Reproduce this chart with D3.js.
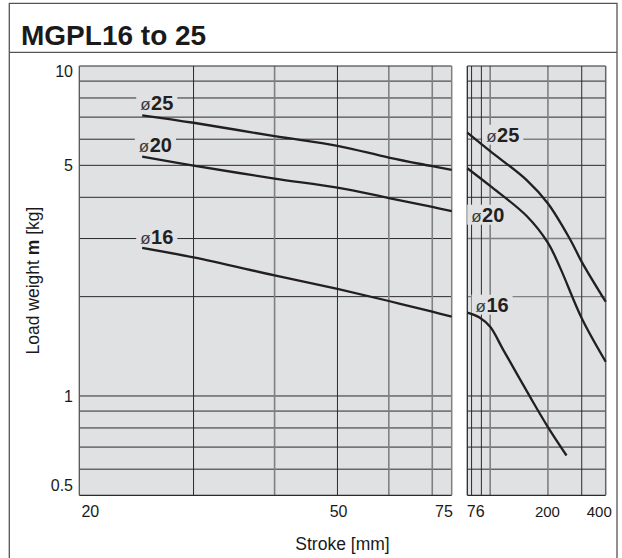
<!DOCTYPE html>
<html>
<head>
<meta charset="utf-8">
<script src="https://cdn.jsdelivr.net/npm/d3@7"></script>
<style>
  html, body { margin: 0; padding: 0; background: #fff; }
  svg { display: block; font-family: "Liberation Sans", Arial, Helvetica, sans-serif; }
</style>
</head>
<body>
<svg id="chart" width="622" height="558"></svg>
<script>
// ---- data ----
const title = "MGPL16 to 25";
const yTicks = [0.5, 1, 5, 10];
const yGrid = [0.6, 0.7, 0.8, 0.9, 1, 2, 3, 4, 5, 6, 7, 8, 9];
const leftTicks = [20, 50, 75];
const rightTicks = [76, 200, 400];
const leftGrid = [30, 40, 50, 60, 70];
const rightGrid = [80, 90, 100, 200, 300];

const leftStroke = [25, 30, 40, 50, 60, 70, 75];
const left25 = [7.09, 6.73, 6.13, 5.73, 5.28, 4.97, 4.84];
const left20 = [5.31, 4.99, 4.56, 4.28, 3.98, 3.74, 3.63];
const left16 = [2.81, 2.63, 2.32, 2.11, 1.94, 1.80, 1.74];

const right25Stroke = [76, 100, 155, 200, 262, 300, 400];
const right25 = [6.28, 5.52, 4.51, 3.83, 2.97, 2.55, 1.93];
const right20Stroke = [76, 100, 155, 200, 232, 300, 400];
const right20 = [4.90, 4.33, 3.51, 2.91, 2.44, 1.72, 1.27];
const right16Stroke = [76, 88, 100, 117, 162, 200, 250];
const right16 = [1.79, 1.73, 1.62, 1.38, 0.99, 0.805, 0.66];

const seriesNames = ["25", "20", "16"];

// ---- layout / style ----
const BG = "#e0e1e3";
const DARK = "#2b2b2b";
const GRAY = "#808080";
const CURVE = "#231f20";

const svg = d3.select("#chart");

const y = d3.scaleLog().domain([0.5, 10]).range([495.3, 66]);
const xL = d3.scaleLog().domain([20, 75]).range([79.3, 451.7]);
const xR = d3.scaleLog().domain([76, 400]).range([467.3, 605.7]);

// outer frame
const FL = 9.3, FR = 617, FT = 3.3, SEP = 52.3;
svg.append("path")
  .attr("d", `M${FL},558V${FT}H${FR}V558`)
  .attr("fill", "none").attr("stroke", "#555").attr("stroke-width", 1.3);
svg.append("line").attr("x1", FL).attr("x2", FR).attr("y1", SEP).attr("y2", SEP)
  .attr("stroke", "#555").attr("stroke-width", 1.3);

svg.append("text").attr("x", 21).attr("y", 45.3)
  .attr("font-size", 28).attr("font-weight", "bold").attr("fill", "#1a1a1a")
  .text(title);

function panel(x, grayY) {
  const [x0, x1] = x.range();
  const [y0, y1] = [y.range()[1], y.range()[0]];
  const g = svg.append("g");
  g.append("rect").attr("x", x0).attr("y", y0).attr("width", x1 - x0).attr("height", y1 - y0)
    .attr("fill", BG);
  g.selectAll("line.h").data(yGrid).join("line")
    .attr("x1", x0).attr("x2", x1)
    .attr("y1", d => y(d)).attr("y2", d => y(d))
    .attr("stroke", d => grayY.includes(d) ? GRAY : DARK)
    .attr("stroke-width", d => grayY.includes(d) ? 1.4 : 1);
  return g;
}

const gL = panel(xL, []);
const gR = panel(xR, [2, 3, 6]);

function vgrid(g, x, vals, grayVals) {
  g.selectAll("line.v").data(vals).join("line")
    .attr("x1", d => x(d)).attr("x2", d => x(d))
    .attr("y1", y(10)).attr("y2", y(0.5))
    .attr("stroke", d => grayVals.includes(d) ? GRAY : DARK)
    .attr("stroke-width", d => grayVals.includes(d) ? 1.6 : 1);
}
vgrid(gL, xL, leftGrid, [40, 60, 70]);
vgrid(gR, xR, rightGrid, [100, 200]);

function edges(g, x, leftCol, rightCol) {
  const [x0, x1] = x.range();
  g.append("line").attr("x1", x0).attr("x2", x1).attr("y1", y(10)).attr("y2", y(10)).attr("stroke", DARK).attr("stroke-width", 1);
  g.append("line").attr("x1", x0).attr("x2", x1).attr("y1", y(0.5)).attr("y2", y(0.5)).attr("stroke", DARK).attr("stroke-width", 1.2);
  g.append("line").attr("x1", x0).attr("x2", x0).attr("y1", y(10)).attr("y2", y(0.5)).attr("stroke", leftCol).attr("stroke-width", 1.3);
  g.append("line").attr("x1", x1).attr("x2", x1).attr("y1", y(10)).attr("y2", y(0.5)).attr("stroke", rightCol).attr("stroke-width", 1.5);
}
edges(gL, xL, "#555", GRAY);
edges(gR, xR, DARK, "#666");

// curve labels (knock-out background)
function label(x0, base, name) {
  const t = svg.append("text").attr("x", x0).attr("y", base).attr("fill", CURVE);
  t.append("tspan").attr("font-size", 17).attr("fill", "#3a3a3a").text("ø");
  t.append("tspan").attr("dx", 0.5).attr("font-size", 20).attr("font-weight", "bold").text(name);
  const bb = t.node().getBBox();
  svg.insert("rect", () => t.node())
    .attr("x", bb.x - 4).attr("y", base - 17).attr("width", bb.width + 8).attr("height", 20)
    .attr("fill", BG);
}
label(140.2, 110, seriesNames[0]);
label(138.8, 151.7, seriesNames[1]);
label(140.2, 244, seriesNames[2]);
label(486.2, 141.7, seriesNames[0]);
label(471.2, 221.7, seriesNames[1]);
label(475.5, 311.7, seriesNames[2]);

// curves
function curve(x, xs, ys) {
  const line = d3.line().x(d => x(d[0])).y(d => y(d[1])).curve(d3.curveCatmullRom.alpha(0.5));
  svg.append("path").attr("d", line(xs.map((v, i) => [v, ys[i]])))
    .attr("fill", "none").attr("stroke", CURVE).attr("stroke-width", 2.3)
    .attr("stroke-linecap", "butt");
}
curve(xL, leftStroke, left25);
curve(xL, leftStroke, left20);
curve(xL, leftStroke, left16);
curve(xR, right25Stroke, right25);
curve(xR, right20Stroke, right20);
curve(xR, right16Stroke, right16);

// axes
const yAxis = svg.append("g").attr("transform", "translate(73,0)")
  .call(d3.axisLeft(y).tickValues(yTicks).tickSize(0).tickPadding(0)
    .tickFormat(d => d3.format("")(d)));
yAxis.select(".domain").remove();
yAxis.selectAll("text").attr("font-size", 16).attr("fill", "#1a1a1a")
  .attr("font-family", "Liberation Sans, Arial, sans-serif")
  .attr("dy", d => d === 0.5 ? "-0.1em" : "0.32em")
  .attr("transform", d => d === 10 ? "translate(0,5.5)" : d === 0.5 ? "translate(0,-3)" : null);

function xAxis(x, ticks, anchors, offsets, sizes) {
  const g = svg.append("g").attr("transform", "translate(0,506)")
    .call(d3.axisBottom(x).tickValues(ticks).tickSize(0).tickPadding(0).tickFormat(d3.format("")));
  g.select(".domain").remove();
  g.selectAll("text").attr("font-size", (d, i) => sizes[i]).attr("fill", "#1a1a1a")
    .attr("font-family", "Liberation Sans, Arial, sans-serif")
    .attr("text-anchor", (d, i) => anchors[i])
    .attr("dx", (d, i) => offsets[i]);
}
xAxis(xL, leftTicks, ["start", "middle", "end"], [1.6, 0.6, 0.7], [16, 16, 16]);
xAxis(xR, rightTicks, ["start", "middle", "end"], [-1, -1, 5.6], [16, 15, 15]);

// axis titles
svg.append("text").attr("x", 342.5).attr("y", 549.5).attr("text-anchor", "middle")
  .attr("font-size", 17.5).attr("fill", "#1a1a1a").text("Stroke [mm]");

const yt = svg.append("text").attr("transform", "translate(39,280.5) rotate(-90)")
  .attr("text-anchor", "middle").attr("font-size", 17.5).attr("fill", "#1a1a1a");
yt.append("tspan").text("Load weight ");
yt.append("tspan").attr("font-weight", "bold").text("m");
yt.append("tspan").text(" [kg]");
</script>
</body>
</html>
